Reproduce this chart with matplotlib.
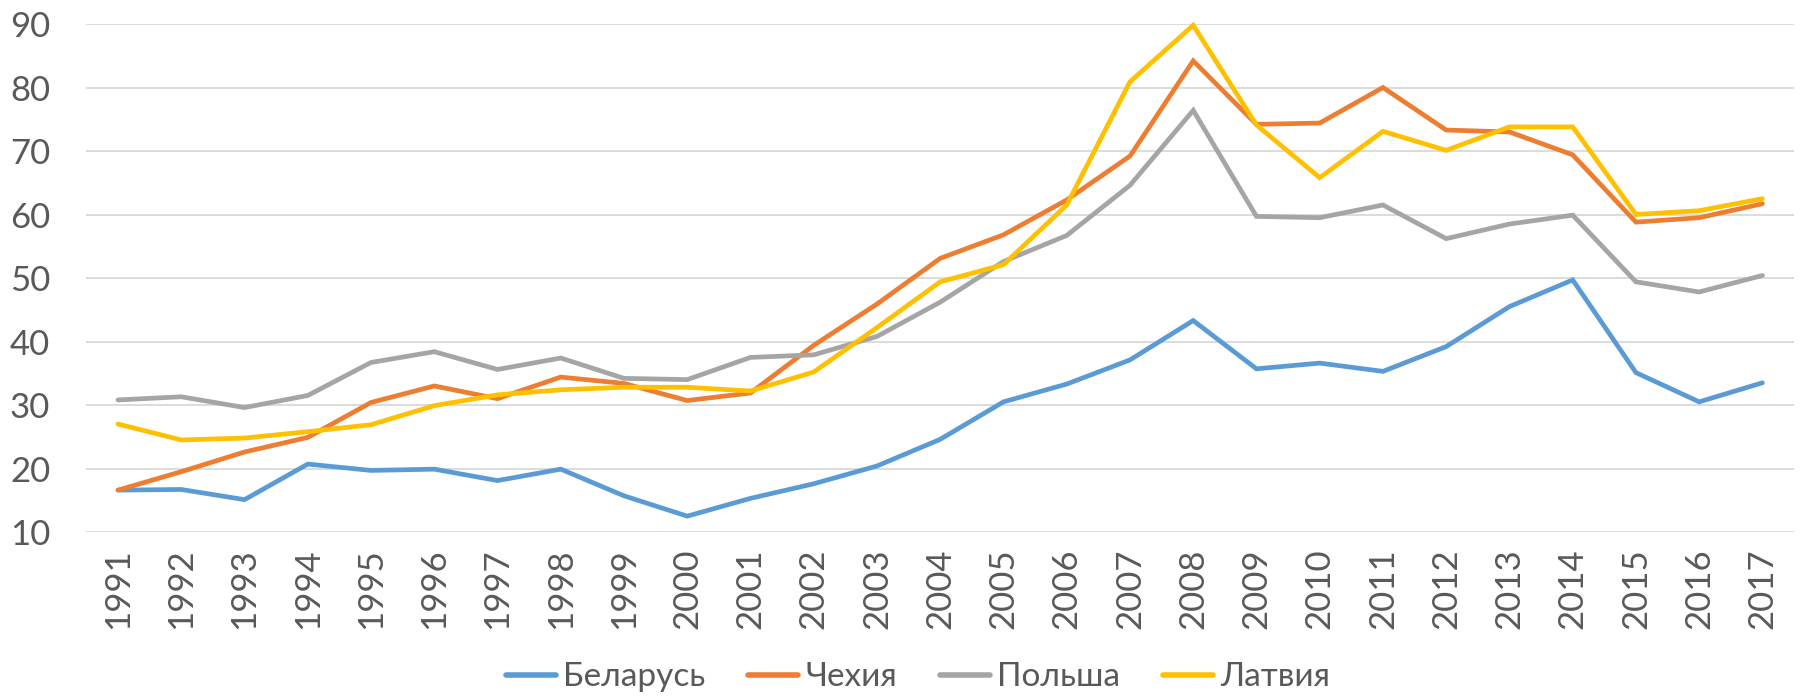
import matplotlib
matplotlib.use("Agg")
import matplotlib.pyplot as plt

years = list(range(1991, 2018))
belarus = [16.6, 16.7, 15.1, 20.7, 19.7, 19.9, 18.1, 19.9, 15.7, 12.5, 15.3, 17.6, 20.4, 24.6,
           30.5, 33.3, 37.1, 43.3, 35.7, 36.6, 35.3, 39.2, 45.5, 49.7, 35.1, 30.5, 33.5]
czech = [16.6, 19.5, 22.6, 24.9, 30.4, 33.0, 31.0, 34.4, 33.4, 30.7, 31.9, 39.4, 45.9, 53.1,
         56.8, 62.3, 69.2, 84.2, 74.2, 74.4, 80.0, 73.3, 73.0, 69.4, 58.8, 59.5, 61.7]
poland = [30.8, 31.3, 29.6, 31.5, 36.7, 38.4, 35.6, 37.4, 34.2, 34.0, 37.5, 37.9, 40.8, 46.2,
          52.6, 56.7, 64.6, 76.4, 59.7, 59.5, 61.5, 56.2, 58.5, 59.9, 49.4, 47.8, 50.4]
latvia = [27.0, 24.5, 24.8, 25.8, 26.9, 29.9, 31.6, 32.4, 32.8, 32.8, 32.2, 35.2, 42.2, 49.4,
          52.1, 61.5, 80.9, 89.8, 74.1, 65.8, 73.1, 70.1, 73.8, 73.8, 60.0, 60.6, 62.5]
series_names = ["Беларусь", "Чехия", "Польша", "Латвия"]
colors = ["#5B9BD5", "#ED7D31", "#A5A5A5", "#FFC000"]
y_ticks = [10, 20, 30, 40, 50, 60, 70, 80, 90]

plt.rcParams['font.family'] = ['Lato', 'DejaVu Sans']
text_color = "#595959"

fig = plt.figure(figsize=(18, 6.96), dpi=100)
ax = fig.add_axes([0.048, 0.2356, 0.9487, 0.7299])

x = list(range(len(years)))
for data, name, c in zip([belarus, czech, poland, latvia], series_names, colors):
    ax.plot(x, data, color=c, linewidth=3.4, label=name, solid_capstyle='round',
            solid_joinstyle='miter', clip_on=False, zorder=3)

ax.set_xlim(-0.5, len(years) - 0.5)
ax.set_ylim(10, 90)
ax.set_yticks(y_ticks)
ax.set_xticks(x)
ax.set_xticklabels([str(y) for y in years], rotation=90)
ax.yaxis.grid(True, color="#D9D9D9", linewidth=1.3)
ax.set_axisbelow(True)
for s in ax.spines.values():
    s.set_visible(False)
ax.tick_params(axis='both', length=0, labelsize=25, labelcolor=text_color)
ax.tick_params(axis='y', pad=26)
ax.tick_params(axis='x', pad=12)

leg = fig.legend(loc='center', bbox_to_anchor=(0.51, 0.027), ncol=4, frameon=False,
                 fontsize=24, handlelength=1.5, handletextpad=0.2, columnspacing=1.3)
for line in leg.get_lines():
    line.set_linewidth(4)
for t in leg.get_texts():
    t.set_color(text_color)

fig.savefig("out.png", dpi=100)
